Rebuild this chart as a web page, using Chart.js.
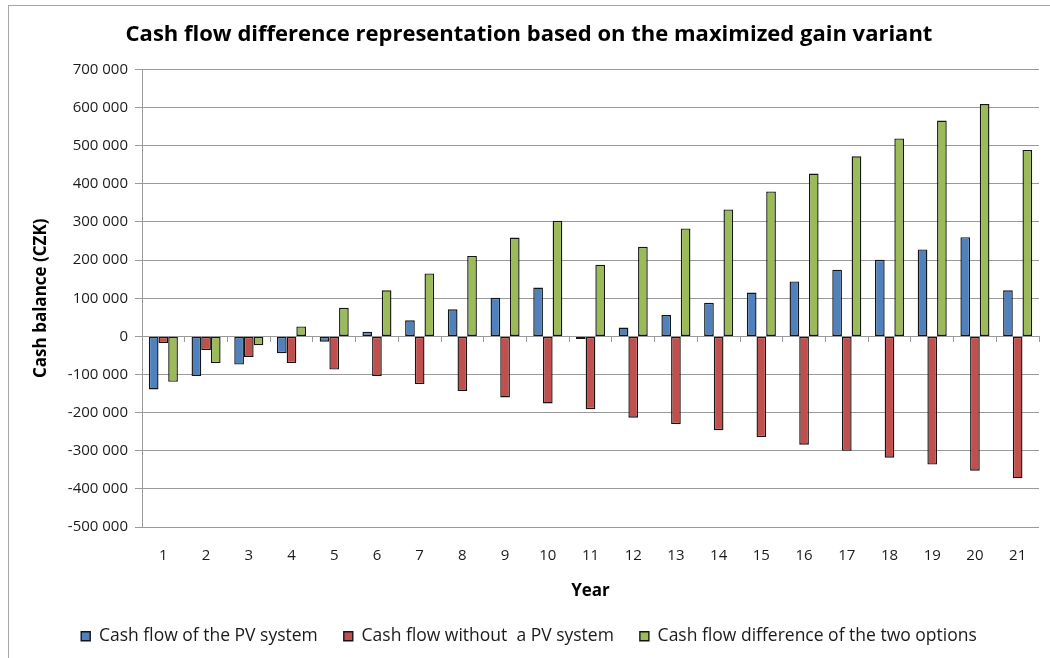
<!DOCTYPE html>
<html>
<head>
<meta charset="utf-8">
<script src="https://cdn.jsdelivr.net/npm/chart.js@4.4.1/dist/chart.umd.min.js"></script>
<style>
  html, body { margin: 0; padding: 0; background: #fff; }
  #wrap { width: 1050px; height: 658px; }
</style>
</head>
<body>
<div id="wrap"><canvas id="myChart" width="1050" height="658"></canvas></div>
<script>
var years = ['1','2','3','4','5','6','7','8','9','10','11','12','13','14','15','16','17','18','19','20','21'];

var pvSystem = [-139000, -104000, -74000, -44000, -14000, 12000, 42000, 71000, 101000, 128000,
  -7000, 23000, 56000, 88000, 115000, 144000, 175000, 201000, 228000, 260000, 121000];

var withoutPv = [-17000, -36000, -54000, -70000, -87000, -104000, -125000, -143000, -160000, -176000,
  -191000, -213000, -230000, -246000, -264000, -284000, -300000, -318000, -336000, -352000, -372000];

var difference = [-119000, -70000, -23000, 26000, 75000, 121000, 165000, 211000, 259000, 303000,
  188000, 235000, 283000, 333000, 380000, 427000, 472000, 519000, 566000, 609000, 489000];

var seriesNames = ['Cash flow of the PV system', 'Cash flow without  a PV system', 'Cash flow difference of the two options'];

var FONT = "'Open Sans', sans-serif";
var TEXT = '#1b1b1b';
var GRID = '#9a9a9a';

function formatCzk(v) {
  var s = String(Math.abs(v)).replace(/\B(?=(\d{3})+(?!\d))/g, ' ');
  return (v < 0 ? '-' : '') + s;
}

// white background and the thin frame around the whole chart
var frame = {
  id: 'frame',
  beforeDraw: function(chart) {
    var c = chart.ctx;
    c.save();
    c.fillStyle = '#fff';
    c.fillRect(0, 0, chart.width, chart.height);
    c.strokeStyle = '#a6a6a6';
    c.lineWidth = 1;
    c.strokeRect(8.5, 5.5, chart.width + 20, chart.height + 20);
    c.restore();
  }
};

function bar(label, data, color) {
  return {
    label: label,
    data: data,
    backgroundColor: color,
    borderColor: '#151515',
    borderWidth: 1.4,
    borderSkipped: false,
    barPercentage: 1,
    categoryPercentage: 0.68
  };
}

var ctx = document.getElementById('myChart');
var chart = new Chart(ctx, {
  type: 'bar',
  data: {
    labels: years,
    datasets: [
      bar(seriesNames[0], pvSystem, '#4f81bd'),
      bar(seriesNames[1], withoutPv, '#c0504d'),
      bar(seriesNames[2], difference, '#9bbb59')
    ]
  },
  options: {
    responsive: false,
    animation: false,
    layout: { padding: { left: 19, right: 11, top: 5, bottom: 3 } },
    plugins: {
      title: {
        display: true,
        text: 'Cash flow difference representation based on the maximized gain variant',
        color: '#000',
        font: { family: FONT, size: 22, weight: 'bold' },
        padding: { top: 17, bottom: 21 }
      },
      legend: {
        position: 'bottom',
        labels: {
          color: TEXT,
          font: { family: FONT, size: 17.5 },
          boxWidth: 9,
          boxHeight: 9,
          padding: 26
        }
      },
      tooltip: { enabled: false }
    },
    scales: {
      x: {
        grid: { display: false },
        border: { display: false },
        ticks: { color: TEXT, font: { family: FONT, size: 15 }, padding: 12 },
        title: {
          display: true,
          text: 'Year',
          color: '#000',
          font: { family: FONT, size: 17, weight: 'bold' },
          padding: { top: 4, bottom: 0 }
        }
      },
      xZero: {
        type: 'category',
        position: { y: 0 },
        grid: { offset: true, drawOnChartArea: false, drawTicks: true, tickLength: 5, color: GRID },
        border: { display: true, color: GRID },
        ticks: { display: false }
      },
      y: {
        min: -500000,
        max: 700000,
        afterFit: function(scale) { scale.width = 123; },
        grid: { color: GRID, lineWidth: 1, drawTicks: true, tickLength: 7 },
        border: { display: true, color: GRID },
        ticks: {
          stepSize: 100000,
          color: TEXT,
          font: { family: FONT, size: 15 },
          padding: 7,
          callback: function(v) { return formatCzk(v); }
        },
        title: {
          display: true,
          text: 'Cash balance (CZK)',
          color: '#000',
          font: { family: FONT, size: 17, weight: 'bold' },
          padding: { top: 12, bottom: 4 }
        }
      }
    }
  },
  plugins: [frame]
});
</script>
</body>
</html>
